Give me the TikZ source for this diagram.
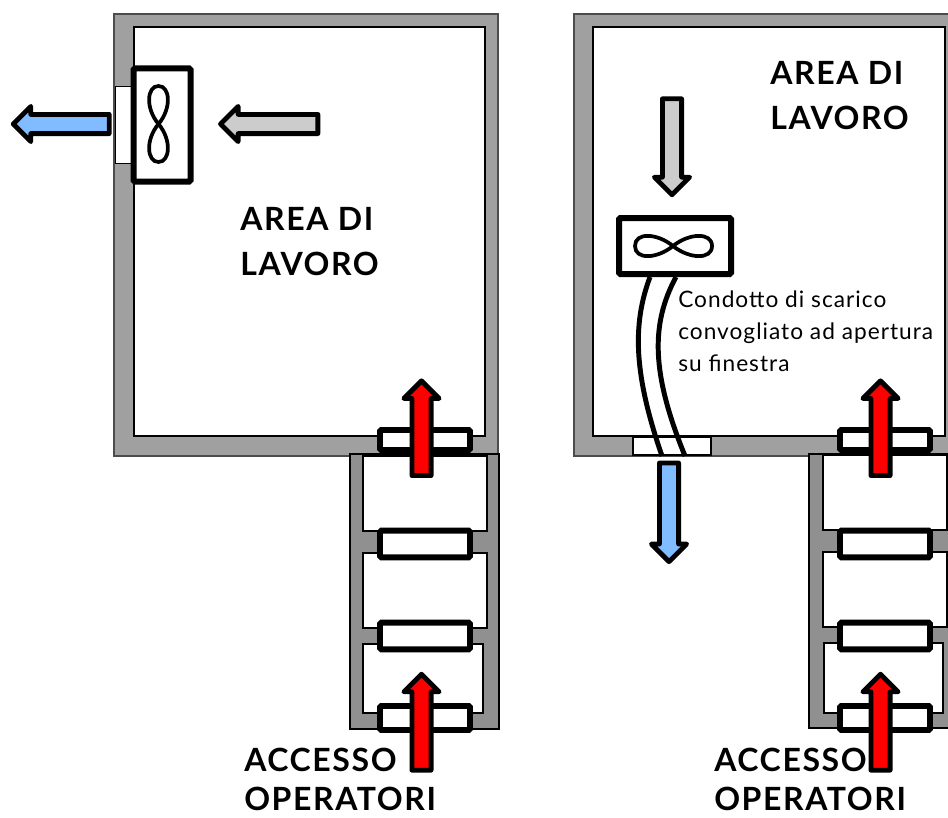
\documentclass[tikz,border=0pt]{standalone}
\usepackage{fontspec}
\setmainfont{Lato}
\newfontfamily\handfont[LetterSpace=5]{Lato}
\newfontfamily\notefont[LetterSpace=4.5]{Lato}
\usetikzlibrary{shapes.arrows}
\definecolor{wallgray}{HTML}{A0A0A0}
\definecolor{hallgray}{HTML}{909090}
\definecolor{airblue}{HTML}{80BCFF}
\definecolor{airgray}{HTML}{CCCCCC}
\tikzset{
    wall/.style={draw=black!70,line width=0.8pt,fill=wallgray},
    hall/.style={draw=black,line width=0.8pt,fill=hallgray},
    room/.style={draw=black,line width=0.9pt,fill=white},
    door/.style={draw,line width=4.4pt,fill=white,rounded corners=1pt,minimum width=67.5pt,inner sep=0pt},
    fanbox/.style={draw,line width=4.5pt,fill=white,rounded corners=1pt,inner sep=0pt},
    blade/.style={draw,line width=2.8pt},
    air/.style={single arrow,draw,line width=3.6pt,line join=round,inner sep=5.4pt,single arrow head extend=6pt,single arrow head indent=0pt,anchor=center},
    label/.style={align=left,anchor=north west,inner sep=0pt,font=\handfont\bfseries\fontsize{24}{33.5}\selectfont},
    small/.style={align=left,anchor=north west,inner sep=0pt,font=\notefont\fontsize{17}{24}\selectfont},
}
\begin{document}
\begin{tikzpicture}[x=0.75pt,y=-0.75pt]
            \clip (0,0) rectangle (948,817);
            % left room
            \draw[wall] (114,14) rectangle (498,456);
            \draw[room] (134,27) rectangle (485,436);
            \draw[room,line width=0.6pt,fill=white] (115,86) rectangle (134,163);
            % left vestibule
            \draw[hall] (350,454) rectangle (499,729);
            \draw[room] (363,456) rectangle (487,531);
            \draw[room] (363,553) rectangle (487,628);
            \draw[room] (363,644) rectangle (483,713);
            % right room
            \draw[wall] (574,14) rectangle (960,456);
            \draw[room] (593,27) rectangle (945,436);
            \draw[room,line width=0.8pt] (633,437) rectangle (711,455);
            % right vestibule
            \draw[hall] (809,454) rectangle (960,728);
            \draw[room] (823,455) rectangle (947,530);
            \draw[room] (823,552) rectangle (947,627);
            \draw[room] (824,643) rectangle (943,713);
            % doors
            \foreach \dx/\side in {425/l,885/r}{
                \node[door,minimum height=15pt] (d1\side) at (\dx,440) {};
                \node[door,minimum height=20pt] (d2\side) at (\dx,544) {};
                \node[door,minimum height=20pt] (d3\side) at (\dx,636) {};
                \node[door,minimum height=18pt] (d4\side) at (\dx,718) {};
            }
            % fans
            \node[fanbox,minimum width=42.75pt,minimum height=84.75pt] (fanl) at (162,125) {};
            \draw[blade] (158.5,124)
                .. controls (145,108) and (147,86) .. (158.5,86)
                .. controls (170,86) and (172,108) .. (158.5,124)
                .. controls (145,140) and (147,162) .. (158.5,162)
                .. controls (170,162) and (172,140) .. (158.5,124);
            \node[fanbox,minimum width=84pt,minimum height=42pt] (fanr) at (675,246) {};
            \draw[blade] (673,246)
                .. controls (657,233) and (635,232) .. (635,246)
                .. controls (635,260) and (657,259) .. (673,246)
                .. controls (689,233) and (712,232) .. (712,246)
                .. controls (712,260) and (689,259) .. (673,246);
            % duct
            \coordinate (ductl) at (650,277);
            \coordinate (ductr) at (676,277);
            \coordinate (exitl) at (662,456);
            \coordinate (exitr) at (685,456);
            \draw[line width=3.7pt] (ductl) .. controls (632,325) and (634,375) .. (exitl);
            \draw[line width=3.7pt] (ductr) .. controls (650,325) and (652,375) .. (exitr);
            % arrows
            \node[air,fill=airblue,minimum height=72pt,rotate=180] (outl) at (66,124) {};
            \node[air,fill=airgray,minimum height=73pt,rotate=180] (inl) at (274,124) {};
            \node[air,fill=airgray,minimum height=72pt,rotate=-90] (inr) at (672,142) {};
            \node[air,fill=airblue,minimum height=74pt,rotate=-90] (outr) at (669,507.5) {};
            \foreach \ax/\side in {421.5/l,880.5/r}{
                \node[air,fill=red,minimum height=71pt,rotate=90] (upa\side) at (\ax,433) {};
                \node[air,fill=red,minimum height=72pt,rotate=90] (upb\side) at (\ax,727) {};
            }
            % labels
            \node[label] (area1) at (240,207) {AREA DI\\LAVORO};
            \node[label] (area2) at (770,61) {AREA DI\\LAVORO};
            \node[label] (acc1) at (244,748) {ACCESSO};
            \node[label] (op1) at (244,787) {OPERATORI};
            \node[label] (acc2) at (714,748) {ACCESSO};
            \node[label] (op2) at (714,787) {OPERATORI};
            \node[small] (cond) at (678,291) {Condotto di scarico\\convogliato ad apertura\\su finestra};
        \end{tikzpicture}
\end{document}
